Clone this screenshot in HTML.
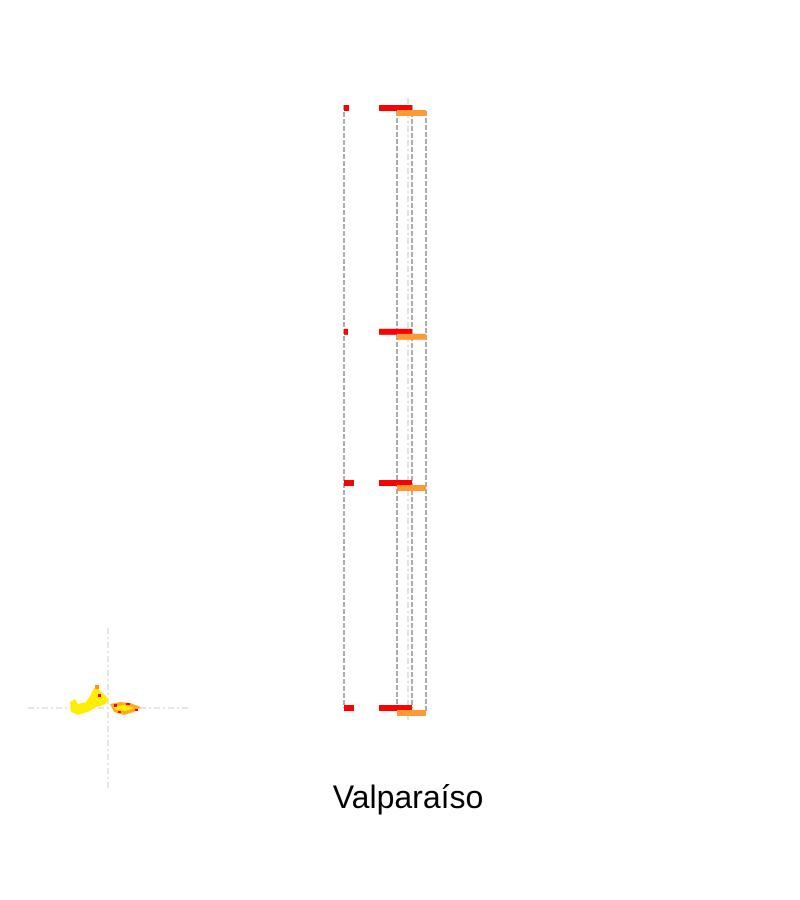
<!DOCTYPE html>
<html><head><meta charset="utf-8"><style>
html,body{margin:0;padding:0;background:#fff;width:800px;height:900px;overflow:hidden}
</style></head><body>
<svg id="chart" width="800" height="900" xmlns="http://www.w3.org/2000/svg">
<g id="minimap">
<line x1="28" y1="708" x2="188" y2="708" stroke="#ddd" stroke-width="1.5" stroke-dasharray="6,3,2,3"/>
<line x1="108" y1="628" x2="108" y2="788" stroke="#ddd" stroke-width="1.5" stroke-dasharray="6,3,2,3"/>
<polygon fill="#ffee00" points="70,702 75,699 78,704 86,702 90,696 94,688 98,688 101,692 106,696 109,700 104,705 96,707 90,711 84,713 78,715 71,712"/>
<polygon fill="#ffaa22" points="110,704 120,702 130,703 141,707 134,712 124,715 114,712"/>
<polygon fill="#ffee00" points="113,707 124,705 134,708 126,711 116,710"/>
<rect x="95" y="685" width="4" height="4" fill="#ff9900"/>
<rect x="98" y="694" width="3" height="3" fill="#ff0000"/>
<rect x="114" y="704" width="3" height="3" fill="#ff0000"/>
<rect x="126" y="703" width="4" height="2" fill="#ff0000"/>
<rect x="118" y="711" width="3" height="2" fill="#ff0000"/>
<rect x="135" y="709" width="3" height="2" fill="#ff0000"/>
</g>
<g id="plot"></g>
<text x="408" y="808" font-family="Liberation Sans, sans-serif" font-size="32" text-anchor="middle" fill="#000">Valparaíso</text>
</svg>
<script>
// data
const rows = ["r1","r2","r3","r4"];
const rowValues = [0, 37.3, 62.5, 100];
const smallRed = [1.0, 0.8, 2.0, 2.0];
const redStart = [7, 7, 7, 7];
const redEnd = [13.6, 13.6, 13.6, 13.6];
const orangeStart = [10.6, 10.6, 10.6, 10.6];
const orangeEnd = [16.4, 16.4, 16.4, 16.4];
const refValue = 12.8;

const NS = "http://www.w3.org/2000/svg";
const g = document.getElementById("plot");
const xS = v => 344 + v * 5;
const yS = v => 108 + v * 6;
function mk(tag, attrs){const e=document.createElementNS(NS,tag);for(const k in attrs)e.setAttribute(k,attrs[k]);g.appendChild(e);return e;}

const yTop = yS(rowValues[0]), yBot = yS(rowValues[rowValues.length-1]);
let ref = mk("line",{x1:xS(refValue),x2:xS(refValue),y1:yTop-10,y2:yBot+15,stroke:"#e2e2e2","stroke-width":2,"stroke-dasharray":"6,3,2,3"});



function vline(x,y1,y2,name){
  const l = mk("line",{x1:x,x2:x,y1:y1,y2:y2,stroke:"#808080","stroke-width":1.3,"stroke-dasharray":"5,2"});
  
  
}
vline(xS(0), yTop-3, yBot, 'red-range-left');
vline(xS(redEnd[0]), yTop-3, yBot, 'red-range-right');
vline(xS(orangeStart[0]), yTop+3, yBot+5, 'orange-range-left');
vline(xS(orangeEnd[0]), yTop+3, yBot+5, 'orange-range-right');

rows.forEach((r,i)=>{
  const y = yS(rowValues[i]);
  let a = mk("rect",{x:xS(0),y:y-3,width:xS(smallRed[i])-xS(0),height:6,fill:"#ff0000"});
  
  
  let b = mk("rect",{x:xS(redStart[i]),y:y-3,width:xS(redEnd[i])-xS(redStart[i]),height:6,fill:"#ff0000"});
  
  
  let c = mk("rect",{x:xS(orangeStart[i]),y:y+2,width:xS(orangeEnd[i])-xS(orangeStart[i]),height:6,fill:"#ff9933"});
  
  
});
</script>
</body></html>
